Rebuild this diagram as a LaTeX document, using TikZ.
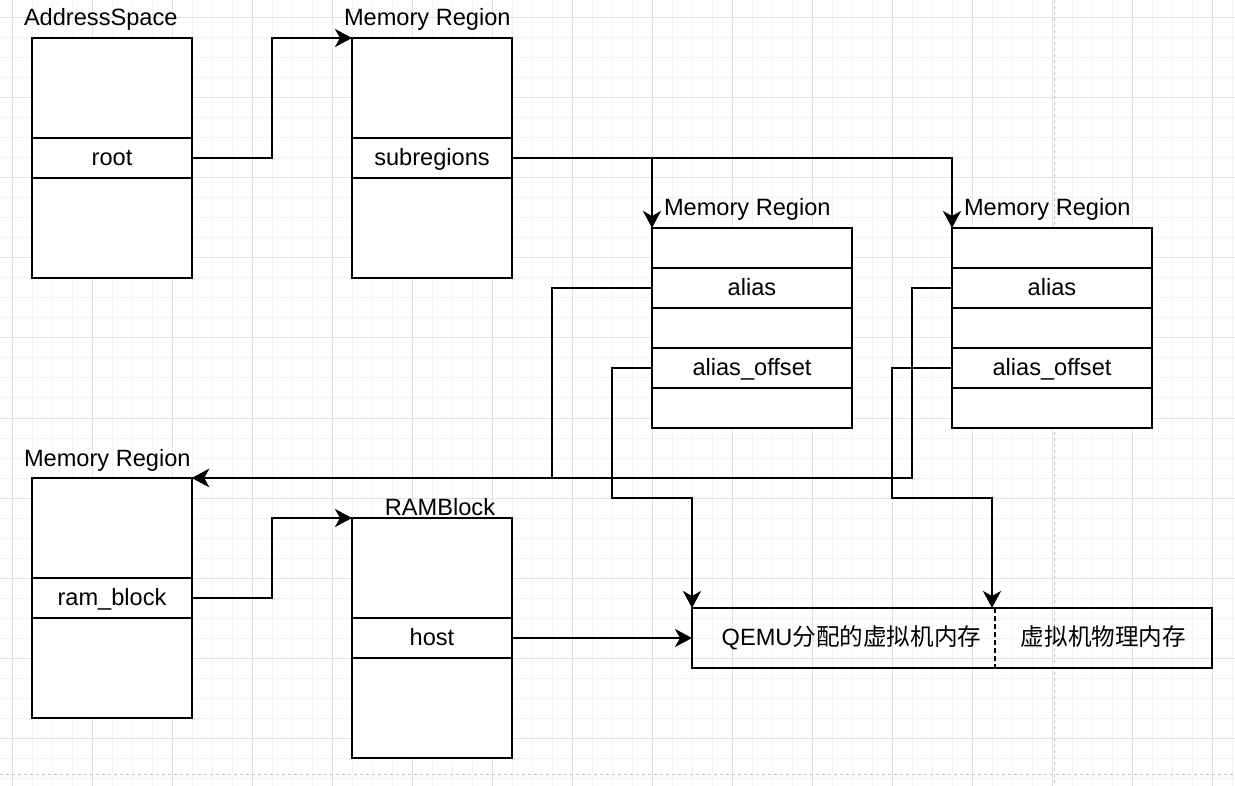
\documentclass[tikz,border=0pt]{standalone}
\usepackage{fontspec}
\setmainfont{Liberation Sans}
\newfontfamily\cjk{Noto Sans CJK SC}
\usetikzlibrary{arrows.meta}
\definecolor{gridmajor}{HTML}{E2E2E2}
\definecolor{gridminor}{HTML}{F4F4F4}
\definecolor{pagebrk}{HTML}{C4C4C4}
\tikzset{
  cell/.style={draw, fill=white, line width=2pt, inner sep=0pt, outer sep=0pt,
    minimum width=#1, text height=18.5pt, text depth=3pt,
    font=\fontsize{23.6}{28}\selectfont},
  rowA/.style={minimum height=100pt},
  rowB/.style={minimum height=40pt},
  conn/.style={line width=2pt, -{Stealth[length=17pt,width=18pt,inset=5pt]}},
  lbl/.style={inner sep=0pt, outer sep=0pt, font=\fontsize{23.6}{28}\selectfont},
}
\begin{document}
\begin{tikzpicture}[x=1pt,y=-1pt]
\useasboundingbox (0,0) rectangle (1235,786);
\fill[white] (0,0) rectangle (1235,786);
% grid
\foreach \gx in {12,32,...,1232} {\draw[gridminor, line width=1pt] (\gx,0) -- (\gx,786);}
\foreach \gy in {18,38,...,778} {\draw[gridminor, line width=1pt] (0,\gy) -- (1235,\gy);}
\foreach \gx in {12,92,...,1232} {\draw[gridmajor, line width=1pt] (\gx,0) -- (\gx,786);}
\foreach \gy in {18,98,...,778} {\draw[gridmajor, line width=1pt] (0,\gy) -- (1235,\gy);}
% page breaks
\draw[pagebrk, line width=1pt, dash pattern=on 3pt off 3pt] (0,774) -- (1235,774);
\draw[pagebrk, line width=1pt, dash pattern=on 3pt off 3pt] (1054,0) -- (1054,786);

% AddressSpace
\node[cell=160pt, rowA] (as-top) at (112,88) {};
\node[cell=160pt, rowB] (as-root) at (112,158) {root};
\node[cell=160pt, rowA] (as-bot) at (112,228) {};
\node[lbl, anchor=base west] (as-lbl) at (24,26) {AddressSpace};

% Memory Region 1
\node[cell=160pt, rowA] (mr1-top) at (432,88) {};
\node[cell=160pt, rowB] (mr1-sub) at (432,158) {subregions};
\node[cell=160pt, rowA] (mr1-bot) at (432,228) {};
\node[lbl, anchor=base west] (mr1-lbl) at (344,26) {Memory Region};

% Memory Region 2
\node[cell=200pt, rowB] (mr2-c1) at (752,248) {};
\node[cell=200pt, rowB] (mr2-alias) at (752,288) {alias};
\node[cell=200pt, rowB] (mr2-c3) at (752,328) {};
\node[cell=200pt, rowB] (mr2-off) at (752,368) {alias\_offset};
\node[cell=200pt, rowB] (mr2-c5) at (752,408) {};
\node[lbl, anchor=base west] (mr2-lbl) at (664,216) {Memory Region};

% Memory Region 3
\node[cell=200pt, rowB] (mr3-c1) at (1052,248) {};
\node[cell=200pt, rowB] (mr3-alias) at (1052,288) {alias};
\node[cell=200pt, rowB] (mr3-c3) at (1052,328) {};
\node[cell=200pt, rowB] (mr3-off) at (1052,368) {alias\_offset};
\node[cell=200pt, rowB] (mr3-c5) at (1052,408) {};
\node[lbl, anchor=base west] (mr3-lbl) at (964,216) {Memory Region};

% Memory Region 4
\node[cell=160pt, rowA] (mr4-top) at (112,528) {};
\node[cell=160pt, rowB] (mr4-ram) at (112,598) {ram\_block};
\node[cell=160pt, rowA] (mr4-bot) at (112,668) {};
\node[lbl, anchor=base west] (mr4-lbl) at (24,466) {Memory Region};

% RAMBlock
\node[cell=160pt, rowA] (rb-top) at (432,568) {};
\node[cell=160pt, rowB] (rb-host) at (432,638) {host};
\node[cell=160pt, rowA] (rb-bot) at (432,708) {};
\node[lbl, anchor=base] (rb-lbl) at (440,515) {RAMBlock};

% memory bar
\node[lbl, minimum width=303pt, minimum height=60pt, text height=18.5pt, text depth=3pt] (qemu) at (843.5,638) {\hspace{16pt}QEMU{\cjk 分配的虚拟机内存}};
\node[lbl, minimum width=217pt, minimum height=60pt, text height=18.5pt, text depth=3pt] (phys) at (1103.5,638) {{\cjk 虚拟机物理内存}\hspace{7pt}};
\draw[line width=2pt] (qemu.north west) rectangle (phys.south east);
\draw[line width=2pt, dash pattern=on 5pt off 3pt] (qemu.north east) -- (qemu.south east);
\coordinate (qin2) at (992,608);

% connectors
\draw[conn] (as-root.east) -- ++(80,0) |- (mr1-top.north west);
\draw[conn] (mr1-sub.east) -| (mr2-c1.north west);
\draw[conn] (mr1-sub.east) -| (mr3-c1.north west);
\draw[conn] (mr2-alias.west) -- ++(-100,0) |- (mr4-top.north east);
\draw[conn] (mr3-alias.west) -- ++(-40,0) |- (mr4-top.north east);
\draw[conn] (mr2-off.west) -- ++(-40,0) -- ++(0,130) -| (qemu.north west);
\draw[conn] (mr3-off.west) -- ++(-60,0) -- ++(0,130) -| (qin2);
\draw[conn] (mr4-ram.east) -- ++(80,0) |- (rb-top.north west);
\draw[conn] (rb-host.east) -- (qemu.west);
\end{tikzpicture}
\end{document}
